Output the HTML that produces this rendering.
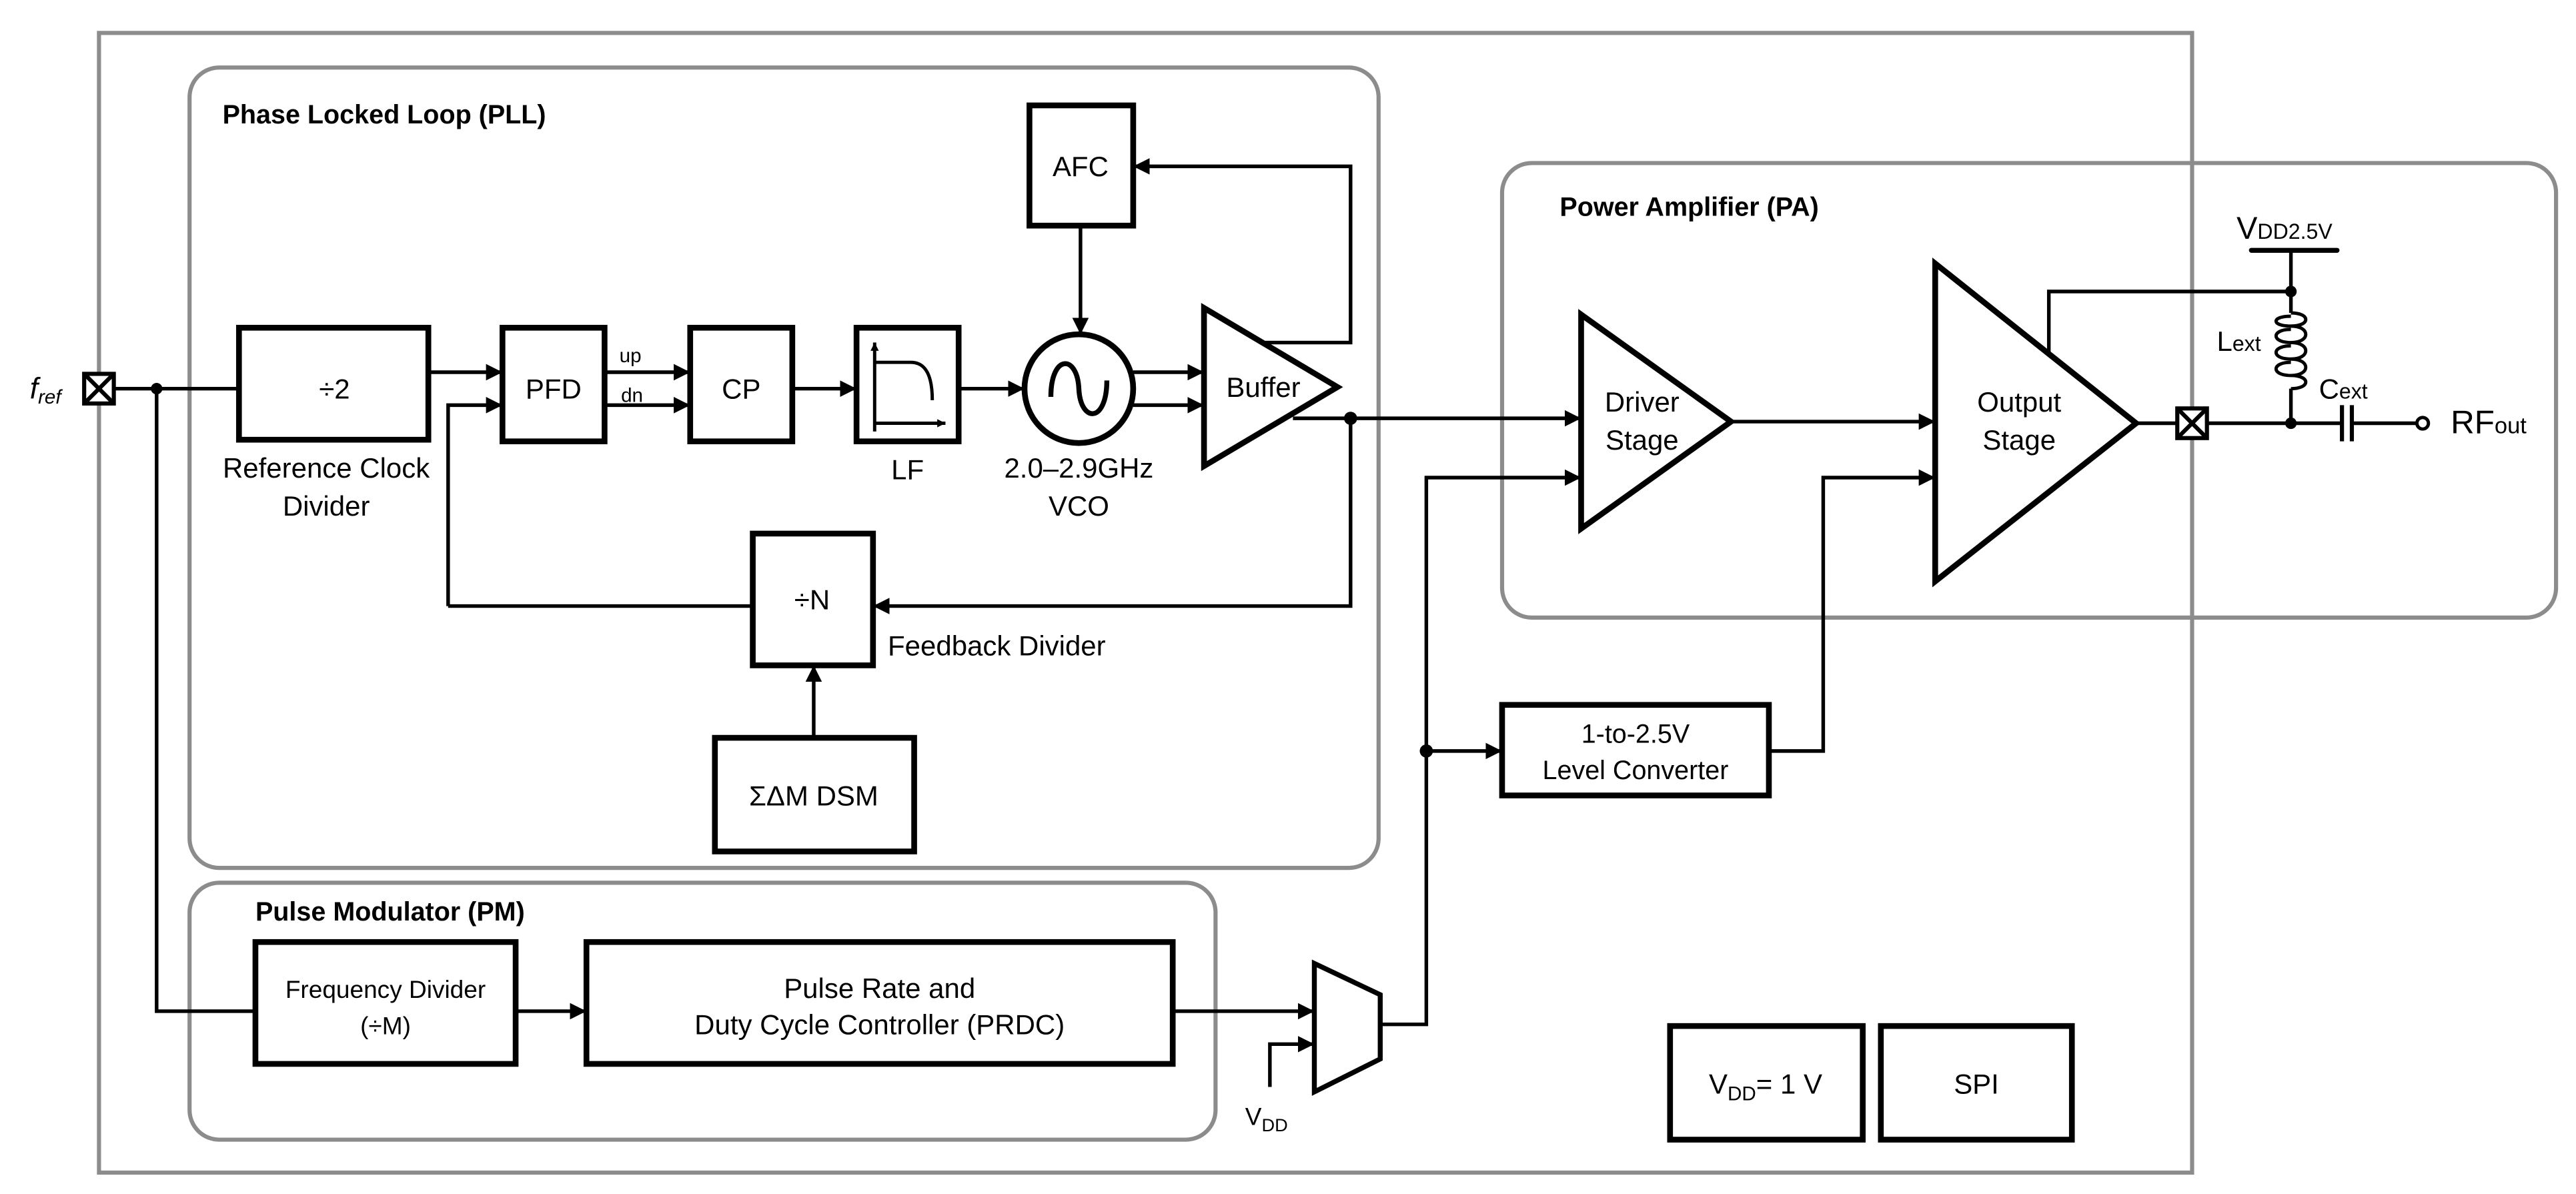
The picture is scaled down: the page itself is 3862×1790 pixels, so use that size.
<!DOCTYPE html>
<html><head><meta charset="utf-8"><style>html,body{margin:0;padding:0;background:#fff}svg{display:block}</style></head>
<body>
<svg width="3862" height="1790" viewBox="0 0 1564 725" xmlns="http://www.w3.org/2000/svg" font-family="Liberation Sans, Arial, sans-serif">
<defs>
<marker id="a" viewBox="0 0 10 10" refX="10" refY="5" markerWidth="5" markerHeight="5" markerUnits="userSpaceOnUse" orient="auto"><path d="M0,0 L10,5 L0,10 z" fill="#000"/></marker>
<marker id="b" viewBox="0 0 10 10" refX="10" refY="5" markerWidth="10" markerHeight="10" markerUnits="userSpaceOnUse" orient="auto"><path d="M0,0 L10,5 L0,10 z" fill="#000"/></marker>
</defs>
<rect width="1564" height="725" fill="#fff"/>
<g fill="none" stroke="#8c8c8c" stroke-width="2.5">
<rect x="60" y="20" width="1271" height="692"/>
<rect x="115" y="41" width="722" height="486" rx="18"/>
<rect x="912" y="99" width="640" height="276" rx="18"/>
<rect x="115" y="536" width="623" height="156" rx="18"/>
</g>
<g font-weight="bold" font-size="16" fill="#000">
<text x="135" y="75">Phase Locked Loop (PLL)</text>
<text x="947" y="131">Power Amplifier (PA)</text>
<text x="155" y="559">Pulse Modulator (PM)</text>
</g>
<g fill="none" stroke="#000" stroke-width="2.2">
<path d="M69,236 H145"/>
<path d="M95,236 V614 H155"/>
<path d="M260,226 H305" marker-end="url(#b)"/>
<path d="M272,368 V246 H305" marker-end="url(#b)"/>
<path d="M367,226 H419" marker-end="url(#b)"/>
<path d="M367,246 H419" marker-end="url(#b)"/>
<path d="M481,236 H520" marker-end="url(#b)"/>
<path d="M582,236 H622" marker-end="url(#b)"/>
<path d="M656,137 V203" marker-end="url(#b)"/>
<path d="M688,226 H731" marker-end="url(#b)"/>
<path d="M688,246 H731" marker-end="url(#b)"/>
<path d="M768,208 H820 V101 H688" marker-end="url(#b)"/>
<path d="M785,254 H960" marker-end="url(#b)"/>
<path d="M820,254 V368 H530" marker-end="url(#b)"/>
<path d="M272,368 H457"/>
<path d="M494,448 V404" marker-end="url(#b)"/>
<path d="M838,622 H866 V290 H960" marker-end="url(#b)"/>
<path d="M866,456 H912" marker-end="url(#b)"/>
<path d="M1074,456 H1107 V290 H1175" marker-end="url(#b)"/>
<path d="M1051,256 H1175" marker-end="url(#b)"/>
<path d="M1244,214 V177 H1391"/>
<path d="M1391,152 V190"/>
<path d="M1391,236 V257"/>
<path d="M1297,257 H1322"/>
<path d="M1340,257 H1422"/>
<path d="M1429,257 H1467"/>
<path d="M313,614 H356" marker-end="url(#b)"/>
<path d="M712,614 H798" marker-end="url(#b)"/>
<path d="M771,660 V634 H798" marker-end="url(#b)"/>
</g>
<path d="M1367,152 H1419" stroke="#000" stroke-width="3" stroke-linecap="round"/>
<path d="M1422,246 V268 M1428,246 V268" stroke="#000" stroke-width="2.5"/>
<circle cx="1471" cy="257" r="3.5" fill="#fff" stroke="#000" stroke-width="2"/>
<path d="M1391,190 C1403,190 1403,198 1391,198 C1379,198 1379,192 1391,192 M1391,198 C1403,198 1403,208 1391,208 C1379,208 1379,200 1391,200 M1391,208 C1403,208 1403,218 1391,218 C1379,218 1379,210 1391,210 M1391,218 C1403,218 1403,228 1391,228 C1379,228 1379,220 1391,220 M1391,228 C1403,228 1403,236 1391,236" fill="none" stroke="#000" stroke-width="2"/>
<g fill="#000">
<circle cx="95" cy="236" r="3.5"/><circle cx="820" cy="254" r="4"/><circle cx="866" cy="456" r="4"/>
<circle cx="1391" cy="177" r="3.5"/><circle cx="1391" cy="257" r="3.5"/>
</g>
<g fill="#fff" stroke="#000" stroke-width="3.5">
<rect x="145" y="199" width="115" height="68"/>
<rect x="305" y="199" width="62" height="69"/>
<rect x="419" y="199" width="62" height="69"/>
<rect x="520" y="199" width="62" height="69"/>
<rect x="625" y="64" width="63" height="73"/>
<rect x="457" y="324" width="73" height="80"/>
<rect x="434" y="448" width="121" height="69"/>
<rect x="912" y="428" width="162" height="55"/>
<rect x="155" y="572" width="158" height="74"/>
<rect x="356" y="572" width="356" height="74"/>
<rect x="1014" y="623" width="117" height="69"/>
<rect x="1142" y="623" width="116" height="69"/>
<circle cx="655" cy="236" r="33"/>
<path d="M731,187 L731,283 L812,235 Z"/>
<path d="M960,191 L960,321 L1051,256 Z"/>
<path d="M1175,160 L1175,353 L1297,257 Z"/>
<path d="M798,585 L838,604 L838,643 L798,663 Z" stroke-width="3"/>
</g>
<g fill="#fff" stroke="#000" stroke-width="2.5">
<rect x="51" y="227" width="18" height="18"/><path d="M51,227 L69,245 M69,227 L51,245"/>
<rect x="1322" y="248" width="18" height="18"/><path d="M1322,248 L1340,266 M1340,248 L1322,266"/>
</g>
<path d="M638,241 C638,215 654,215 655,236 C656,257 672,257 672,231" fill="none" stroke="#000" stroke-width="3"/>
<g fill="none" stroke="#000" stroke-width="2">
<path d="M531,262 V208" marker-end="url(#a)"/>
<path d="M531,257 H574" marker-end="url(#a)"/>
<path d="M531,220 H553 C562,220 566,228 566,243"/>
</g>
<g fill="#000" font-size="17" text-anchor="middle">
<text x="203" y="242">÷2</text>
<text x="198" y="290">Reference Clock</text>
<text x="198" y="313">Divider</text>
<text x="336" y="242">PFD</text>
<text x="450" y="242">CP</text>
<text x="551" y="291">LF</text>
<text x="656" y="107">AFC</text>
<text x="655" y="290">2.0–2.9GHz</text>
<text x="655" y="313">VCO</text>
<text x="767" y="241">Buffer</text>
<text x="493" y="370">÷N</text>
<text x="494" y="489">ΣΔM DSM</text>
<text x="997" y="250">Driver</text>
<text x="997" y="273">Stage</text>
<text x="1226" y="250">Output</text>
<text x="1226" y="273">Stage</text>
<text x="993" y="451" font-size="16">1-to-2.5V</text>
<text x="993" y="473" font-size="16">Level Converter</text>
<text x="234" y="606" font-size="15">Frequency Divider</text>
<text x="234" y="628" font-size="15">(÷M)</text>
<text x="534" y="606">Pulse Rate and</text>
<text x="534" y="628">Duty Cycle Controller (PRDC)</text>
<text x="1072" y="664">V<tspan font-size="12" dy="4">DD</tspan><tspan dy="-4">= 1 V</tspan></text>
<text x="1200" y="664">SPI</text>
</g>
<g fill="#000" font-size="17">
<text x="539" y="398">Feedback Divider</text>
<text x="376" y="220" font-size="12">up</text>
<text x="377" y="244" font-size="12">dn</text>
<text x="18" y="242" font-style="italic" font-size="18">f<tspan font-size="12" dy="3">ref</tspan></text>
<text x="1358" y="145" font-size="19">V<tspan font-size="13">DD2.5V</tspan></text>
<text x="1346" y="213" font-size="17">L<tspan font-size="13">ext</tspan></text>
<text x="1408" y="242" font-size="17">C<tspan font-size="13">ext</tspan></text>
<text x="1488" y="263" font-size="20">RF<tspan font-size="14">out</tspan></text>
<text x="756" y="683" font-size="15">V<tspan font-size="11" dy="4">DD</tspan></text>
</g>
</svg>
</body></html>
